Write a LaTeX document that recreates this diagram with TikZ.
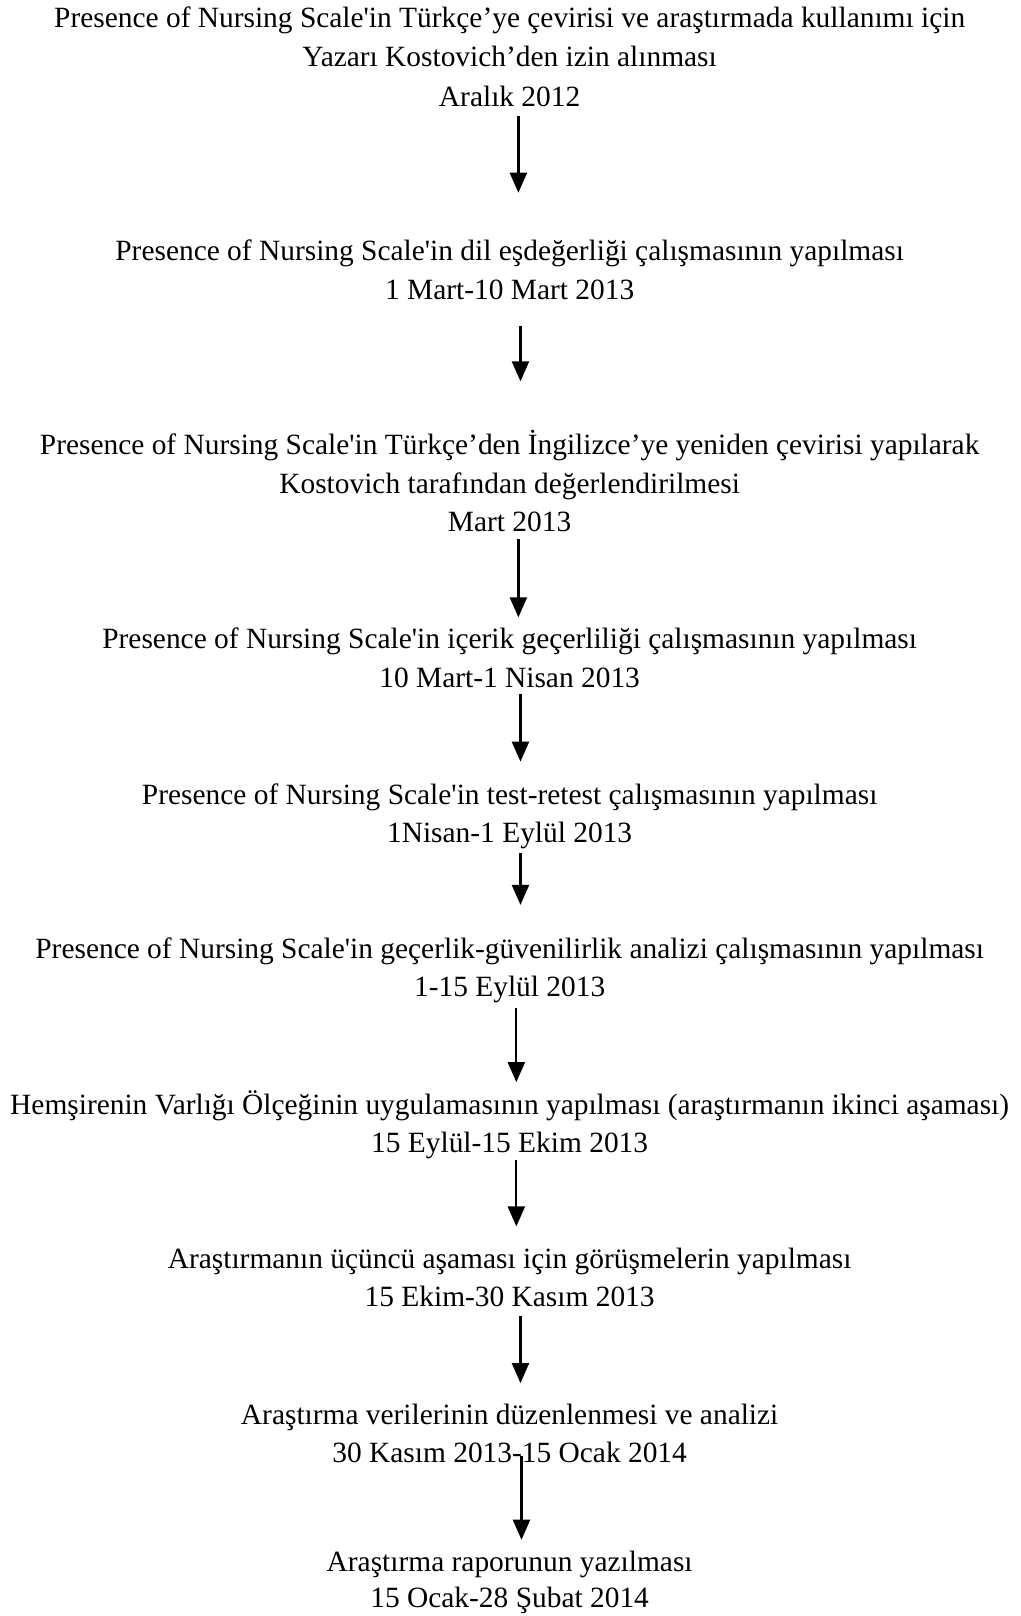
\documentclass[tikz,border=0pt]{standalone}
\usepackage{fontspec}
\setmainfont{Liberation Serif}
\usetikzlibrary{arrows.meta}
\newcommand{\sq}{\textquotesingle}
\begin{document}
\begin{tikzpicture}[x=0.51515pt,y=-0.51515pt,
  txt/.style={anchor=base,inner sep=0pt,font=\fontsize{14.7}{17.6}\selectfont},
  flow/.style={line width=1.1pt,-{Triangle[length=10pt,width=8.5pt]}}]
\useasboundingbox (0,0) rectangle (990,1568);
\def\cx{494.5}
% block 1
\node[txt] (l1a) at (\cx,27) {Presence of Nursing Scale\sq in Türkçe’ye çevirisi ve araştırmada kullanımı için};
\node[txt] (l1b) at (\cx,65) {Yazarı Kostovich’den izin alınması};
\node[txt] (l1c) at (\cx,103) {Aralık 2012};
% block 2
\node[txt] (l2a) at (\cx,253) {Presence of Nursing Scale\sq in dil eşdeğerliği çalışmasının yapılması};
\node[txt] (l2b) at (\cx,291) {1 Mart-10 Mart 2013};
% block 3
\node[txt] (l3a) at (\cx,441) {Presence of Nursing Scale\sq in Türkçe’den İngilizce’ye yeniden çevirisi yapılarak};
\node[txt] (l3b) at (\cx,479) {Kostovich tarafından değerlendirilmesi};
\node[txt] (l3c) at (\cx,516) {Mart 2013};
% block 4
\node[txt] (l4a) at (\cx,629) {Presence of Nursing Scale\sq in içerik geçerliliği çalışmasının yapılması};
\node[txt] (l4b) at (\cx,667) {10 Mart-1 Nisan 2013};
% block 5
\node[txt] (l5a) at (\cx,781) {Presence of Nursing Scale\sq in test-retest çalışmasının yapılması};
\node[txt] (l5b) at (\cx,817) {1Nisan-1 Eylül 2013};
% block 6
\node[txt] (l6a) at (\cx,930) {Presence of Nursing Scale\sq in geçerlik-güvenilirlik analizi çalışmasının yapılması};
\node[txt] (l6b) at (\cx,967) {1-15 Eylül 2013};
% block 7
\node[txt] (l7a) at (\cx,1081) {Hemşirenin Varlığı Ölçeğinin uygulamasının yapılması (araştırmanın ikinci aşaması)};
\node[txt] (l7b) at (\cx,1118) {15 Eylül-15 Ekim 2013};
% block 8
\node[txt] (l8a) at (\cx,1231) {Araştırmanın üçüncü aşaması için görüşmelerin yapılması};
\node[txt] (l8b) at (\cx,1268) {15 Ekim-30 Kasım 2013};
% block 9
\node[txt] (l9a) at (\cx,1382) {Araştırma verilerinin düzenlenmesi ve analizi};
\node[txt] (l9b) at (\cx,1419) {30 Kasım 2013-15 Ocak 2014};
% block 10
\node[txt] (l10a) at (\cx,1525) {Araştırma raporunun yazılması};
\node[txt] (l10b) at (\cx,1560) {15 Ocak-28 Şubat 2014};
% arrows
\coordinate (a1s) at (503,113); \coordinate (a1e) at (503,187);
\coordinate (a2s) at (505,316); \coordinate (a2e) at (505,370);
\coordinate (a3s) at (503,523); \coordinate (a3e) at (503,599);
\coordinate (a4s) at (505,673); \coordinate (a4e) at (505,739);
\coordinate (a5s) at (505,828); \coordinate (a5e) at (505,878);
\coordinate (a6s) at (501,978); \coordinate (a6e) at (501,1050);
\coordinate (a7s) at (501,1126); \coordinate (a7e) at (501,1190);
\coordinate (a8s) at (505,1277); \coordinate (a8e) at (505,1342);
\coordinate (a9s) at (506,1413); \coordinate (a9e) at (506,1494);
\foreach \i in {1,...,9} {\draw[flow] (a\i s) -- (a\i e);}
\end{tikzpicture}
\end{document}
